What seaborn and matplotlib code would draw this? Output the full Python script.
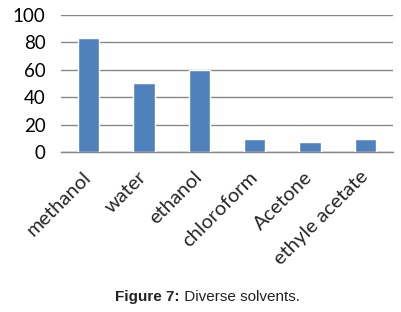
import matplotlib
matplotlib.use("Agg")
import matplotlib.pyplot as plt
import seaborn as sns
import pandas as pd

categories = ["methanol", "water", "ethanol", "chloroform", "Acetone", "ethyle acetate"]
values = [83, 50, 60, 9.5, 7.5, 9.5]
yticks = [0, 20, 40, 60, 80, 100]

sns.set_theme(style="white")
plt.rcParams['font.family'] = ['Lato', 'DejaVu Sans']

df = pd.DataFrame({"solvent": categories, "value": values})

fig = plt.figure(figsize=(4.01, 3.12), dpi=100)
ax = fig.add_axes([0.152, 0.513, 0.828, 0.439])
sns.barplot(data=df, x="solvent", y="value", color="#4F81BD", width=0.39,
            saturation=1, ax=ax, zorder=3)
ax.set_ylim(0, 100)
ax.set_yticks(yticks)
ax.set_yticklabels([str(v) for v in yticks], fontsize=13.5)
ax.set_xlim(-0.5, len(categories) - 0.5)
ax.set_xlabel("")
ax.set_ylabel("")
for s in ["top", "right", "left"]:
    ax.spines[s].set_visible(False)
ax.spines["bottom"].set_color("#868686")
ax.spines["bottom"].set_linewidth(1)
ax.yaxis.grid(True, color="#868686", linewidth=1)
ax.set_axisbelow(True)
ax.tick_params(axis="y", length=9, color="#868686", width=1, pad=2, labelcolor="black")
# x ticks at category boundaries
ax.set_xticks([i - 0.5 for i in range(len(categories) + 1)], minor=True)
ax.tick_params(axis="x", which="minor", length=4, color="#868686", width=1, direction="out")
ax.tick_params(axis="x", which="major", length=0, pad=16)
ax.set_xticks(range(len(categories)))
ax.set_xticklabels(categories, rotation=45, ha="right", rotation_mode="anchor",
                   fontsize=14.5, va="center")

t1 = fig.text(0.287, 0.027, "Figure 7:", fontsize=11, fontweight="bold",
              family=["Liberation Sans"], ha="left", va="bottom", color="#222222")
ax.annotate(" Diverse solvents.", xy=(1, 0), xycoords=t1, fontsize=11,
            family=["Liberation Sans"], ha="left", va="bottom", color="#222222",
            annotation_clip=False)

fig.savefig("out.png", dpi=100)
